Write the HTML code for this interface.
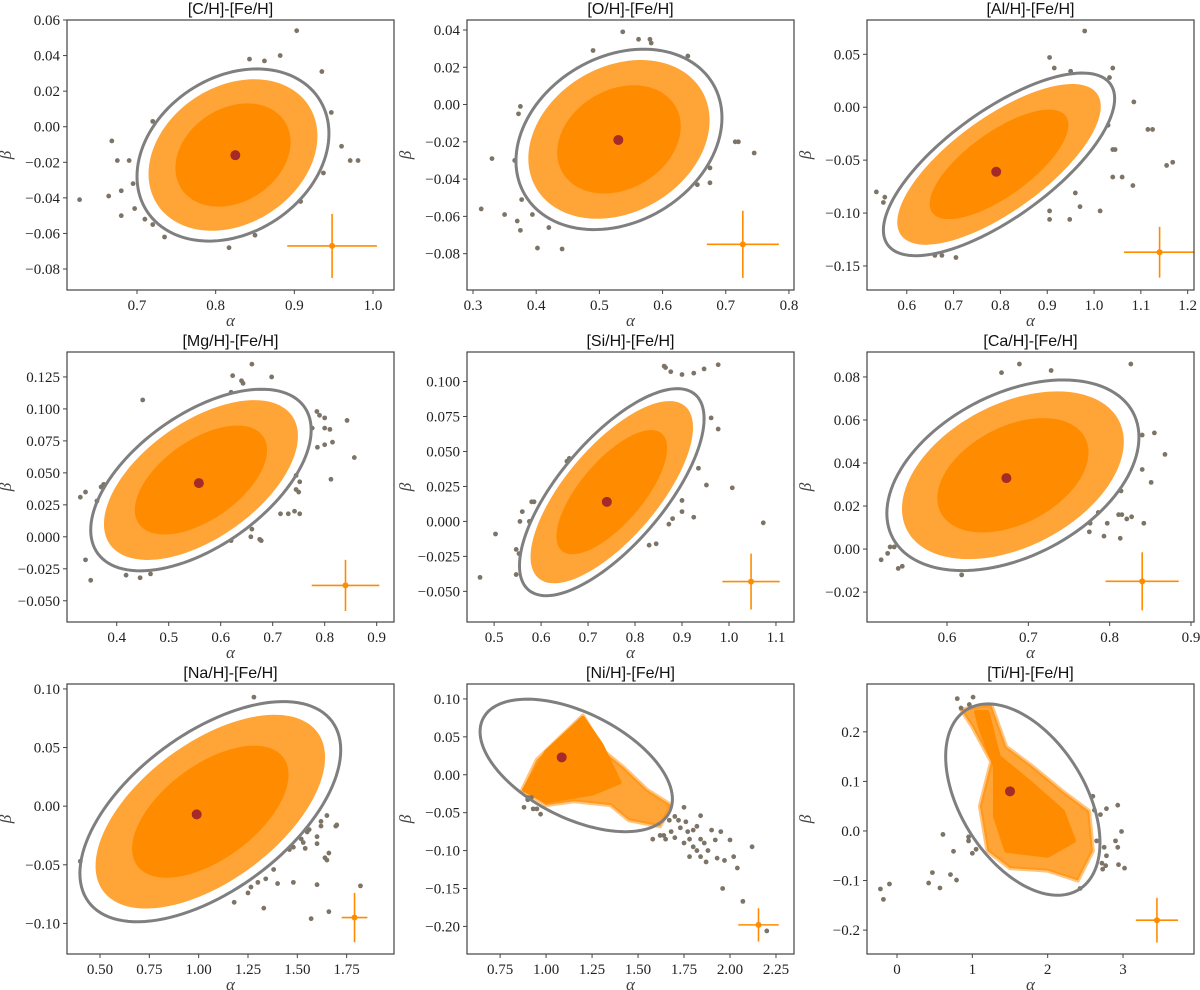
<!DOCTYPE html>
<html><head><meta charset="utf-8"><style>
html,body{margin:0;padding:0;background:#fff;}
svg{display:block;}
.tk{font-family:"Liberation Serif","DejaVu Serif",serif;font-size:15px;fill:#222;}
.ttl{font-family:"Liberation Sans","DejaVu Sans",sans-serif;font-size:16px;fill:#111;}
.al{font-family:"Liberation Serif","DejaVu Serif",serif;font-style:italic;font-size:17px;fill:#444;}
</style></head><body>
<svg id="fig" xmlns="http://www.w3.org/2000/svg" width="1200" height="990" viewBox="0 0 1200 990"></svg>
<script>
// ---------- data ----------
const titles=["[C/H]-[Fe/H]","[O/H]-[Fe/H]","[Al/H]-[Fe/H]","[Mg/H]-[Fe/H]","[Si/H]-[Fe/H]","[Ca/H]-[Fe/H]","[Na/H]-[Fe/H]","[Ni/H]-[Fe/H]","[Ti/H]-[Fe/H]"];
const xDomains=[[0.611,1.0267],[0.2905,0.808],[0.515,1.2135],[0.3044,0.9333],[0.4423,1.1384],[0.5016,0.9037],[0.3327,1.99],[0.57,2.348],[-0.398,3.942]];
const yDomains=[[-0.0918,0.06],[-0.0995,0.04536],[-0.1727,0.0824],[-0.0666,0.1445],[-0.0719,0.1211],[-0.0339,0.0916],[-0.1261,0.1042],[-0.2364,0.1197],[-0.2482,0.2965]];
const xTicks=[[0.7,0.8,0.9,1.0],[0.3,0.4,0.5,0.6,0.7,0.8],[0.6,0.7,0.8,0.9,1.0,1.1,1.2],[0.4,0.5,0.6,0.7,0.8,0.9],[0.5,0.6,0.7,0.8,0.9,1.0,1.1],[0.6,0.7,0.8,0.9],[0.5,0.75,1.0,1.25,1.5,1.75],[0.75,1.0,1.25,1.5,1.75,2.0,2.25],[0,1,2,3]];
const xDecimals=[1,1,1,1,1,1,2,2,0];
const yTicks=[[0.06,0.04,0.02,0,-0.02,-0.04,-0.06,-0.08],[0.04,0.02,0,-0.02,-0.04,-0.06,-0.08],[0.05,0,-0.05,-0.1,-0.15],[0.125,0.1,0.075,0.05,0.025,0,-0.025,-0.05],[0.1,0.075,0.05,0.025,0,-0.025,-0.05],[0.08,0.06,0.04,0.02,0,-0.02],[0.1,0.05,0,-0.05,-0.1],[0.1,0.05,0,-0.05,-0.1,-0.15,-0.2],[0.2,0.1,0,-0.1,-0.2]];
const yDecimals=[2,2,2,3,3,2,2,2,1];
// ellipse: [cx, cy, halfWidthX, halfHeightY, rho]
const ellipses=[[0.822,-0.0159,0.122,0.0484,0.25],[0.531,-0.0187,0.163,0.0484,0.24],[0.797,-0.054,0.247,0.0863,0.72],[0.562,0.0444,0.212,0.071,0.55],[0.7505,0.0209,0.1965,0.074,0.71],[0.681,0.0343,0.155,0.0443,0.40],[1.059,-0.0047,0.661,0.0939,0.56],[1.164,0.0123,0.523,0.0874,-0.51],[1.67,0.0633,1.024,0.193,-0.45]];
const centers=[[0.825,-0.016],[0.53,-0.019],[0.791,-0.061],[0.558,0.042],[0.74,0.014],[0.673,0.033],[0.99,-0.007],[1.085,0.023],[1.5,0.08]];
// error bar: [x, y, xHalf, yHalf]
const errBars=[[0.948,-0.067,0.057,0.018],[0.727,-0.075,0.057,0.018],[1.14,-0.137,0.076,0.024],[0.84,-0.038,0.065,0.02],[1.047,-0.043,0.061,0.02],[0.84,-0.015,0.045,0.0135],[1.79,-0.095,0.065,0.021],[2.155,-0.198,0.11,0.022],[3.45,-0.18,0.28,0.045]];
// dense sample cloud outlines (null => ellipse-shaped cloud)
const cloudHalo=[null,null,null,null,null,null,null,
 [[0.87,-0.02],[0.95,0.02],[1.2,0.078],[1.32,0.03],[1.42,0.01],[1.55,-0.02],[1.68,-0.04],[1.62,-0.068],[1.45,-0.06],[1.35,-0.04],[1.15,-0.035],[1.0,-0.04]],
 [[0.85,0.245],[1.25,0.255],[1.45,0.17],[1.8,0.13],[2.2,0.08],[2.55,0.04],[2.6,-0.04],[2.4,-0.1],[2.0,-0.08],[1.5,-0.075],[1.2,-0.04],[1.1,0.05],[1.25,0.14],[1.0,0.21]]];
const cloudCore=[null,null,null,null,null,null,null,
 [[0.88,-0.02],[1.0,0.03],[1.2,0.075],[1.3,0.04],[1.4,-0.01],[1.25,-0.025],[1.0,-0.035]],
 [[1.05,0.24],[1.2,0.24],[1.35,0.15],[1.75,0.1],[2.2,0.04],[2.35,-0.02],[2.0,-0.05],[1.45,-0.04],[1.3,0.03],[1.3,0.13],[1.1,0.21]]];
const outliers=[
 [[0.627,-0.041],[0.664,-0.039],[0.668,-0.008],[0.675,-0.019],[0.68,-0.036],[0.68,-0.05],[0.69,-0.019],[0.695,-0.032],[0.697,-0.046],[0.71,-0.052],[0.72,-0.055],[0.72,0.003],[0.843,0.038],[0.862,0.037],[0.882,0.04],[0.903,0.054],[0.935,0.031],[0.947,0.008],[0.96,-0.011],[0.971,-0.019],[0.981,-0.019],[0.937,-0.026],[0.908,-0.042],[0.85,-0.061],[0.817,-0.068],[0.735,-0.062]],
 [[0.313,-0.056],[0.33,-0.029],[0.35,-0.059],[0.366,-0.03],[0.372,-0.005],[0.375,-0.001],[0.37,-0.0625],[0.375,-0.0675],[0.377,-0.051],[0.394,-0.059],[0.402,-0.077],[0.42,-0.066],[0.441,-0.0775],[0.49,0.029],[0.537,0.039],[0.562,0.035],[0.58,0.035],[0.582,0.033],[0.64,0.026],[0.675,-0.034],[0.715,-0.02],[0.72,-0.02],[0.745,-0.026],[0.675,-0.042],[0.655,-0.043]],
 [[0.535,-0.08],[0.553,-0.085],[0.55,-0.09],[0.66,-0.14],[0.675,-0.14],[0.705,-0.142],[0.905,0.047],[0.915,0.037],[0.95,0.034],[0.98,0.072],[1.04,0.037],[1.033,0.028],[1.085,0.005],[1.03,-0.017],[1.04,-0.04],[1.045,-0.04],[1.115,-0.021],[1.125,-0.021],[1.155,-0.055],[1.168,-0.052],[1.083,-0.074],[1.06,-0.066],[1.04,-0.066],[1.013,-0.098],[0.97,-0.094],[0.96,-0.081],[0.948,-0.106],[0.905,-0.098],[0.905,-0.106]],
 [[0.33,0.031],[0.34,0.035],[0.34,-0.018],[0.35,-0.034],[0.362,0.028],[0.37,0.039],[0.375,0.041],[0.418,-0.03],[0.445,-0.032],[0.465,-0.029],[0.45,0.107],[0.623,0.126],[0.64,0.122],[0.643,0.12],[0.66,0.135],[0.698,0.125],[0.62,0.113],[0.785,0.098],[0.79,0.095],[0.8,0.093],[0.843,0.091],[0.81,0.084],[0.776,0.085],[0.8,0.085],[0.815,0.074],[0.786,0.07],[0.8,0.072],[0.857,0.062],[0.812,0.045],[0.745,0.048],[0.752,0.043],[0.745,0.037],[0.75,0.035],[0.742,0.02],[0.73,0.018],[0.715,0.018],[0.752,0.018],[0.66,0.006],[0.658,0.0],[0.675,-0.002],[0.678,-0.003],[0.62,-0.003]],
 [[0.47,-0.04],[0.503,-0.009],[0.547,-0.02],[0.547,-0.038],[0.553,-0.023],[0.555,0.0],[0.56,0.007],[0.575,0.0],[0.58,0.014],[0.585,0.014],[0.655,0.043],[0.66,0.045],[0.862,0.111],[0.865,0.11],[0.876,0.107],[0.9,0.105],[0.925,0.106],[0.947,0.109],[0.977,0.112],[0.962,0.074],[0.977,0.066],[0.935,0.038],[0.952,0.026],[1.007,0.024],[1.073,-0.001],[0.9,0.015],[0.9,0.007],[0.925,0.003],[0.88,0.002],[0.872,-0.002],[0.845,-0.016],[0.83,-0.017]],
 [[0.519,-0.005],[0.527,-0.002],[0.53,0.001],[0.535,0.001],[0.54,-0.009],[0.545,-0.008],[0.618,-0.012],[0.667,0.082],[0.689,0.086],[0.728,0.083],[0.826,0.086],[0.84,0.053],[0.855,0.054],[0.868,0.044],[0.84,0.037],[0.851,0.031],[0.814,0.027],[0.811,0.016],[0.815,0.016],[0.821,0.014],[0.827,0.015],[0.842,0.012],[0.813,0.005],[0.797,0.012],[0.793,0.006],[0.776,0.012],[0.775,0.008],[0.786,0.017]],
 [[0.4,-0.047],[1.28,0.093],[1.18,-0.082],[1.25,-0.074],[1.265,-0.069],[1.33,-0.087],[1.34,-0.062],[1.3,-0.065],[1.38,-0.054],[1.4,-0.066],[1.48,-0.065],[1.46,-0.037],[1.48,-0.035],[1.52,-0.028],[1.53,-0.031],[1.55,-0.022],[1.56,-0.02],[1.6,-0.026],[1.6,-0.032],[1.62,-0.013],[1.62,-0.017],[1.65,-0.008],[1.64,-0.044],[1.66,-0.04],[1.65,-0.046],[1.695,-0.017],[1.7,-0.016],[1.6,-0.067],[1.66,-0.09],[1.57,-0.096],[1.82,-0.068],[1.54,-0.036]],
 [[0.88,-0.043],[0.9,-0.033],[0.92,-0.03],[0.93,-0.045],[0.95,-0.045],[0.97,-0.052],[0.9,-0.03],[1.67,-0.06],[1.7,-0.055],[1.72,-0.06],[1.75,-0.043],[1.76,-0.062],[1.77,-0.075],[1.8,-0.073],[1.82,-0.068],[1.84,-0.054],[1.58,-0.085],[1.62,-0.08],[1.64,-0.08],[1.65,-0.085],[1.68,-0.075],[1.7,-0.083],[1.73,-0.07],[1.75,-0.09],[1.78,-0.085],[1.8,-0.095],[1.82,-0.1],[1.84,-0.108],[1.86,-0.09],[1.87,-0.115],[1.88,-0.1],[1.9,-0.073],[1.92,-0.086],[1.93,-0.11],[1.95,-0.075],[1.97,-0.113],[2.0,-0.086],[2.02,-0.108],[2.04,-0.123],[2.12,-0.095],[1.96,-0.15],[2.07,-0.167],[2.2,-0.206],[1.78,-0.108],[1.84,-0.085]],
 [[-0.22,-0.117],[-0.18,-0.138],[-0.1,-0.107],[0.42,-0.105],[0.47,-0.084],[0.57,-0.115],[0.61,-0.007],[0.71,-0.088],[0.75,-0.041],[0.79,-0.099],[0.95,-0.012],[0.95,-0.02],[1.0,-0.045],[1.05,-0.037],[0.8,0.267],[0.85,0.248],[0.96,0.255],[1.01,0.27],[2.6,0.07],[2.62,0.042],[2.7,0.033],[2.78,0.045],[2.65,-0.02],[2.75,-0.033],[2.78,-0.05],[2.72,-0.065],[2.77,-0.07],[2.73,-0.077],[2.93,0.052],[2.98,-0.001],[2.9,-0.02],[2.93,-0.033],[2.94,-0.068],[3.02,-0.075],[2.43,-0.116]]
];
// ---------- rendering ----------
const NS="http://www.w3.org/2000/svg";
const svg=document.getElementById('fig');
const colLeft=[67,467,867], rowTop=[20,352,684], PW=327, PH=270;
const ORANGE="#ff8c00", GRAY="#7d7467";
function mk(tag,attrs,parent){const e=document.createElementNS(NS,tag);for(const k in attrs)e.setAttribute(k,attrs[k]);parent.appendChild(e);return e;}
function fmt(v,d){let s=Math.abs(v).toFixed(d);return (v<-1e-12?"\u2212":"")+s;}
function ellipsePts(el,scale,sx,sy){const pts=[];const [cx,cy,a,b,r]=el;const q=Math.sqrt(1-r*r);
 for(let i=0;i<=120;i++){const t=i/120*2*Math.PI;const x=cx+scale*a*Math.cos(t);const y=cy+scale*b*(r*Math.cos(t)+q*Math.sin(t));pts.push(sx(x).toFixed(2)+","+sy(y).toFixed(2));}return pts.join(" ");}
for(let p=0;p<9;p++){
 const L=colLeft[p%3], T=rowTop[Math.floor(p/3)];
 const [x0,x1]=xDomains[p], [y0,y1]=yDomains[p];
 const sx=v=>L+(v-x0)/(x1-x0)*PW;
 const sy=v=>T+PH-(v-y0)/(y1-y0)*PH;
 const g=mk('g',{},svg);
 
 
 const cid='clip'+p;
 const cp=mk('clipPath',{id:cid},g);mk('rect',{x:L,y:T,width:PW,height:PH},cp);
 const plot=mk('g',{'clip-path':'url(#'+cid+')'},g);
 if(cloudHalo[p]){
  const h=mk('polygon',{points:cloudHalo[p].map(d=>sx(d[0])+","+sy(d[1])).join(" "),fill:ORANGE,'fill-opacity':0.78,stroke:ORANGE,'stroke-width':4,'stroke-opacity':0.5,'stroke-linejoin':'round'},plot);
  
  
  const c=mk('polygon',{points:cloudCore[p].map(d=>sx(d[0])+","+sy(d[1])).join(" "),fill:ORANGE,stroke:ORANGE,'stroke-width':4,'stroke-linejoin':'round'},plot);
  
  
 } else {
  const h=mk('polygon',{points:ellipsePts(ellipses[p],0.88,sx,sy),fill:ORANGE,'fill-opacity':0.78},plot);
  
  
  const c=mk('polygon',{points:ellipsePts(ellipses[p],0.6,sx,sy),fill:ORANGE},plot);
  
  
 }
 outliers[p].forEach(d=>{const o=mk('circle',{cx:sx(d[0]),cy:sy(d[1]),r:2.4,fill:GRAY},plot);
  
  });
 const e=mk('polygon',{points:ellipsePts(ellipses[p],1,sx,sy),fill:'none',stroke:'#7f7f7f','stroke-width':3},plot);
 
 
 const cc=mk('circle',{cx:sx(centers[p][0]),cy:sy(centers[p][1]),r:5,fill:'#a52a2a'},plot);
 
 
 const [ex,ey,exh,eyh]=errBars[p];
 const eg=mk('g',{stroke:ORANGE,'stroke-width':1.6},plot);
 
 
 mk('line',{x1:sx(ex-exh),x2:sx(ex+exh),y1:sy(ey),y2:sy(ey)},eg);
 mk('line',{x1:sx(ex),x2:sx(ex),y1:sy(ey-eyh),y2:sy(ey+eyh)},eg);
 mk('circle',{cx:sx(ex),cy:sy(ey),r:3,fill:ORANGE,stroke:'none'},eg);
 const fr=mk('rect',{x:L,y:T,width:PW,height:PH,fill:'none',stroke:'#444','stroke-width':1.2},g);
 
 
 xTicks[p].forEach(v=>{const X=sx(v);mk('line',{x1:X,x2:X,y1:T+PH,y2:T+PH+4,stroke:'#444'},g);
  const t=mk('text',{x:X,y:T+PH+20,'text-anchor':'middle',class:'tk'},g);t.textContent=fmt(v,xDecimals[p]);
  
  });
 yTicks[p].forEach(v=>{const Y=sy(v);mk('line',{x1:L-4,x2:L,y1:Y,y2:Y,stroke:'#444'},g);
  const t=mk('text',{x:L-7,y:Y+5,'text-anchor':'end',class:'tk'},g);t.textContent=fmt(v,yDecimals[p]);
  
  });
 const tt=mk('text',{x:L+PW/2,y:T-6,'text-anchor':'middle',class:'ttl'},g);tt.textContent=titles[p];
 
 
 const xl=mk('text',{x:L+PW/2,y:T+PH+36,'text-anchor':'middle',class:'al'},g);xl.textContent='α';
 
 
 const yx=L-56, yy=T+PH/2;
 const yl=mk('text',{x:yx,y:yy,'text-anchor':'middle',class:'al',transform:'rotate(-90 '+yx+' '+yy+')'},g);yl.textContent='β';
 
 
}
</script>
</body></html>
